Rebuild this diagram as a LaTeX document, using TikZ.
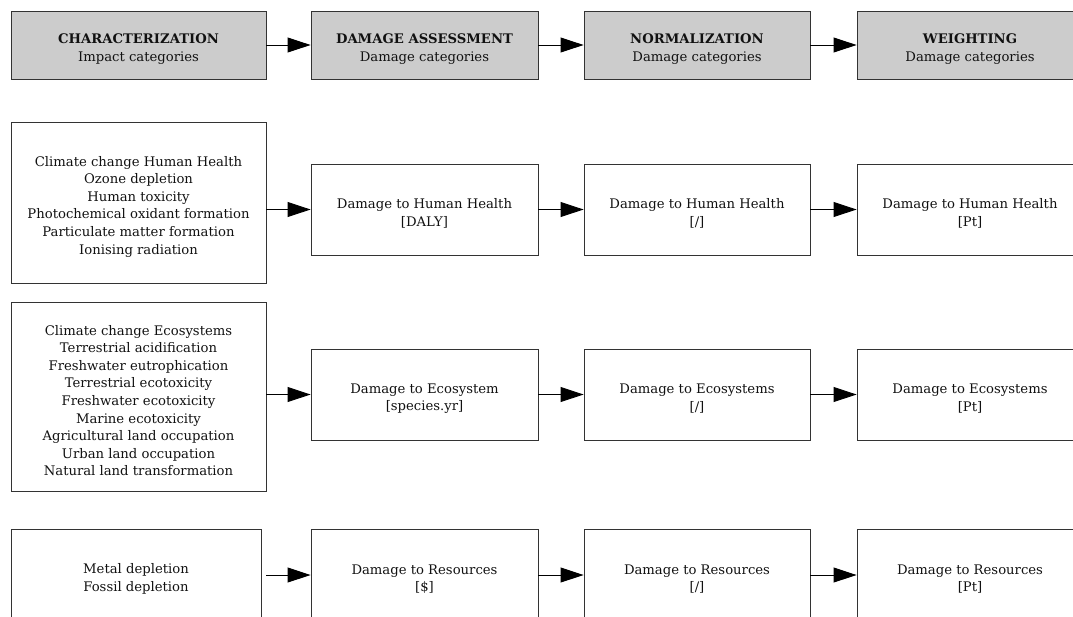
\documentclass[tikz,border=0pt]{standalone}
\usepackage{fontspec}
\setmainfont{DejaVu Serif}
\usetikzlibrary{arrows.meta}
\definecolor{hdrgray}{HTML}{CCCCCC}
\definecolor{edge}{HTML}{333333}
\definecolor{ink}{HTML}{111111}
\newcommand{\topstrut}{\rule{0pt}{18pt}}
\tikzset{
  box/.style={draw=edge, line width=0.9pt, rectangle, align=center, text=ink,
    inner sep=0pt, font=\fontsize{13.2}{17.6}\selectfont},
  hdr/.style={box, fill=hdrgray},
  arr/.style={draw=black, line width=0.9pt, -{Triangle[length=23pt,width=15pt]}}
}
\begin{document}
\begin{tikzpicture}[x=1pt,y=-1pt]
\useasboundingbox (0,0) rectangle (1073,616);
% header row
\node[hdr, minimum width=255pt, minimum height=68pt] (h1) at (138.5,45) {\topstrut\textbf{CHARACTERIZATION}\\Impact categories};
\node[hdr, minimum width=227pt, minimum height=68pt] (h2) at (424.5,45) {\topstrut\textbf{DAMAGE ASSESSMENT}\\Damage categories};
\node[hdr, minimum width=226pt, minimum height=68pt] (h3) at (697,45) {\topstrut\textbf{NORMALIZATION}\\Damage categories};
\node[hdr, minimum width=226pt, minimum height=68pt] (h4) at (970,45) {\topstrut\textbf{WEIGHTING}\\Damage categories};
% row 2
\node[box, minimum width=255pt, minimum height=161pt] (a1) at (138.5,202.5) {\topstrut Climate change Human Health\\Ozone depletion\\Human toxicity\\Photochemical oxidant formation\\Particulate matter formation\\Ionising radiation};
\node[box, minimum width=227pt, minimum height=91pt] (a2) at (424.5,209.5) {\topstrut Damage to Human Health\\{}[DALY]};
\node[box, minimum width=226pt, minimum height=91pt] (a3) at (697,209.5) {\topstrut Damage to Human Health\\{}[/]};
\node[box, minimum width=226pt, minimum height=91pt] (a4) at (970,209.5) {\topstrut Damage to Human Health\\{}[Pt]};
% row 3
\node[box, minimum width=255pt, minimum height=189pt] (b1) at (138.5,396.5) {\topstrut Climate change Ecosystems\\Terrestrial acidification\\Freshwater eutrophication\\Terrestrial ecotoxicity\\Freshwater ecotoxicity\\Marine ecotoxicity\\Agricultural land occupation\\Urban land occupation\\Natural land transformation};
\node[box, minimum width=227pt, minimum height=91pt] (b2) at (424.5,394.5) {\topstrut Damage to Ecosystem\\{}[species.yr]};
\node[box, minimum width=226pt, minimum height=91pt] (b3) at (697,394.5) {\topstrut Damage to Ecosystems\\{}[/]};
\node[box, minimum width=226pt, minimum height=91pt] (b4) at (970,394.5) {\topstrut Damage to Ecosystems\\{}[Pt]};
% row 4
\node[box, minimum width=250pt, minimum height=92pt] (c1) at (136,575) {\topstrut Metal depletion\\Fossil depletion};
\node[box, minimum width=227pt, minimum height=92pt] (c2) at (424.5,575) {\topstrut Damage to Resources\\{}[\$]};
\node[box, minimum width=226pt, minimum height=92pt] (c3) at (697,575) {\topstrut Damage to Resources\\{}[/]};
\node[box, minimum width=226pt, minimum height=92pt] (c4) at (970,575) {\topstrut Damage to Resources\\{}[Pt]};
% arrows
\draw[arr] (h1.east) -- (h2.west);
\draw[arr] (h2.east) -- (h3.west);
\draw[arr] (h3.east) -- (h4.west);
\draw[arr] (a1.east |- a2.west) -- (a2.west);
\draw[arr] (a2.east) -- (a3.west);
\draw[arr] (a3.east) -- (a4.west);
\draw[arr] (b1.east |- b2.west) -- (b2.west);
\draw[arr] (b2.east) -- (b3.west);
\draw[arr] (b3.east) -- (b4.west);
\draw[arr] ([xshift=5pt]c1.east) -- (c2.west);
\draw[arr] (c2.east) -- (c3.west);
\draw[arr] (c3.east) -- (c4.west);
\end{tikzpicture}
\end{document}
